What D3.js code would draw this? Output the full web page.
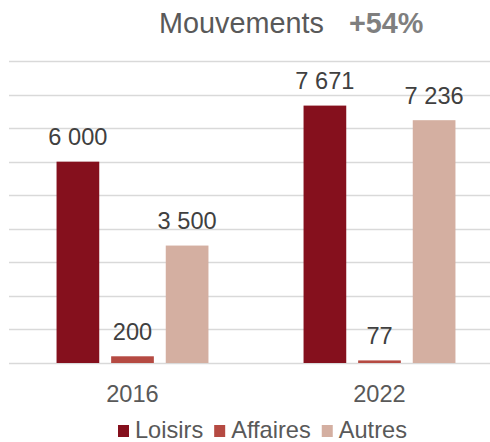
<!DOCTYPE html>
<html>
<head>
<meta charset="utf-8">
<script src="https://d3js.org/d3.v7.min.js"></script>
<style>
    html, body {
        margin: 0;
        padding: 0;
        background: #fff;
        font-family: 'Liberation Sans', Arial, sans-serif;
    }
    .grid line {
        stroke: #d9d9d9;
        stroke-width: 1.5px;
    }
    .value {
        font-size: 23.6px;
        fill: #404040;
        text-anchor: middle;
    }
    .year {
        font-size: 23.6px;
        fill: #595959;
        text-anchor: middle;
    }
    .legend text {
        font-size: 23.6px;
        fill: #595959;
    }
</style>
</head>
<body>
<script>
// data
var years = ["2016", "2022"];
var series = ["Loisirs", "Affaires", "Autres"];
var loisirs = [6000, 7671];
var affaires = [200, 77];
var autres = [3500, 7236];
var colours = ["#85101d", "#b54a42", "#d4afa1"];
var yTicks = [0, 1000, 2000, 3000, 4000, 5000, 6000, 7000, 8000, 9000];

var values = [loisirs, affaires, autres];

var width = 490, height = 442;

var svg = d3.select("body").append("svg")
    .attr("width", width)
    .attr("height", height);

// french thousands separator
var fr = d3.formatLocale({ decimal: ",", thousands: " ", grouping: [3], currency: ["", " €"] });
var fmt = fr.format(",d");

var x0 = d3.scaleBand()
    .domain(years)
    .range([9, 503])
    .paddingInner(0.385)
    .paddingOuter(0.1925);

var x1 = d3.scaleBand()
    .domain(series)
    .range([0, x0.bandwidth()])
    .paddingInner(0.218)
    .paddingOuter(0);

var y = d3.scaleLinear()
    .domain([0, 9000])
    .range([363, 61]);

// gridlines
svg.append("g")
    .attr("class", "grid")
    .selectAll("line")
    .data(yTicks)
    .enter().append("line")
    .attr("x1", 9)
    .attr("x2", width)
    .attr("y1", function(d) { return Math.round(y(d)) + 0.5; })
    .attr("y2", function(d) { return Math.round(y(d)) + 0.5; });

// bars
var rows = [];
years.forEach(function(yr, i) {
    series.forEach(function(s, j) {
        rows.push({ year: yr, serie: s, value: values[j][i], colour: colours[j] });
    });
});

var bar = svg.selectAll(".bar")
    .data(rows)
    .enter().append("g")
    .attr("class", "bar");

bar.append("rect")
    .attr("x", function(d) { return x0(d.year) + x1(d.serie); })
    .attr("y", function(d) { return y(d.value); })
    .attr("width", x1.bandwidth())
    .attr("height", function(d) { return y(0) - y(d.value); })
    .attr("fill", function(d) { return d.colour; });

bar.append("text")
    .attr("class", "value")
    .attr("x", function(d) { return x0(d.year) + x1(d.serie) + x1.bandwidth() / 2; })
    .attr("y", function(d) { return y(d.value) - 16.5; })
    .text(function(d) { return fmt(d.value); });

// x axis labels
svg.selectAll(".year")
    .data(years)
    .enter().append("text")
    .attr("class", "year")
    .attr("x", function(d) { return x0(d) + x0.bandwidth() / 2; })
    .attr("y", 402)
    .text(function(d) { return d; });

// title
var title = svg.append("text")
    .attr("x", 159)
    .attr("y", 33)
    .style("font-size", "28.8px");
title.append("tspan")
    .attr("fill", "#595959")
    .text("Mouvements");
title.append("tspan")
    .attr("x", 349)
    .attr("fill", "#7f7f7f")
    .style("font-weight", "bold")
    .text("+54%");

// legend
var legend = svg.append("g").attr("class", "legend");
var lx = 118;
series.forEach(function(s, i) {
    legend.append("rect")
        .attr("x", lx)
        .attr("y", 425)
        .attr("width", 11)
        .attr("height", 12)
        .attr("fill", colours[i]);
    var t = legend.append("text")
        .attr("x", lx + 17)
        .attr("y", 438)
        .text(s);
    lx += 17 + t.node().getComputedTextLength() + 11;
});
</script>
</body>
</html>
